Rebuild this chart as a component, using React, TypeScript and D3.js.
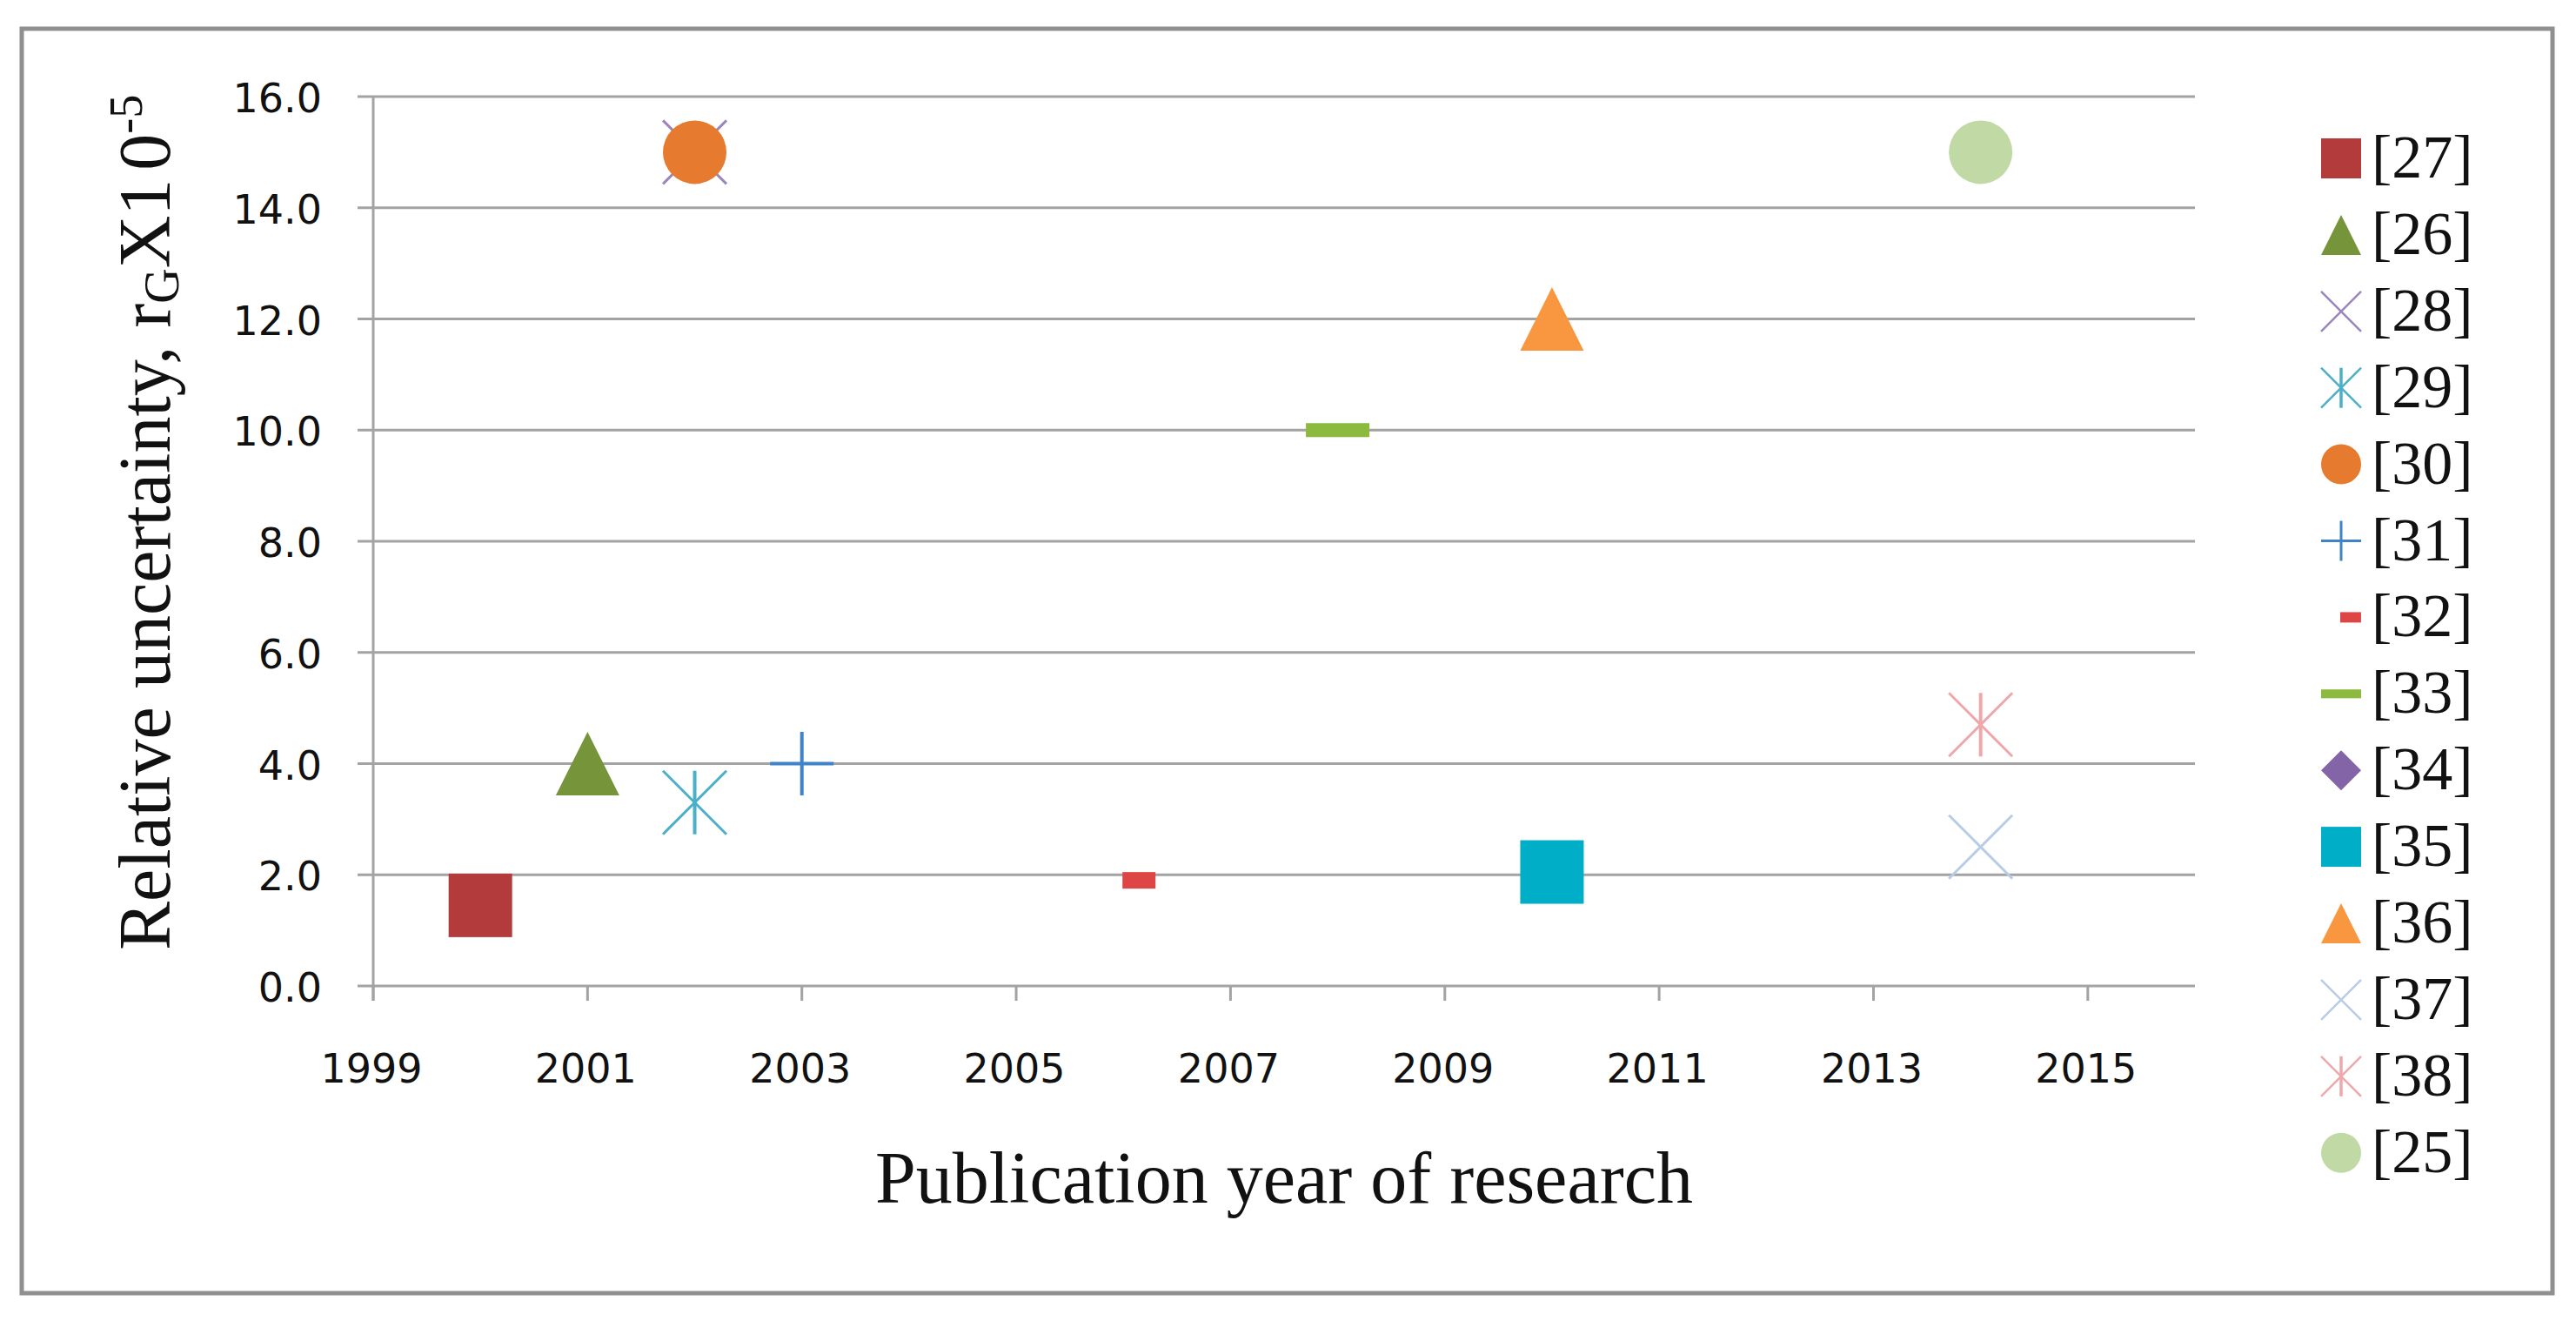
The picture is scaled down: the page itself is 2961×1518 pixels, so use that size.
import React from "react";
import * as d3 from "d3";

const refs = ["[27]", "[26]", "[28]", "[29]", "[30]", "[31]", "[32]", "[33]", "[34]", "[35]", "[36]", "[37]", "[38]", "[25]"];
const years: (number | null)[] = [2000, 2001, 2002, 2002, 2002, 2003, 2006, 2008, null, 2010, 2010, 2014, 2014, 2014];
const values: (number | null)[] = [1.45, 4.0, 15.0, 3.3, 15.0, 4.0, 1.9, 10.0, null, 2.05, 12.0, 2.5, 4.7, 15.0];
const markerTypes = ["square", "triangle", "x", "asterisk", "circle", "plus", "shortdash", "dash", "diamond", "square", "triangle", "x", "asterisk", "circle"];
const colors = ["#B43B3B", "#76953A", "#9A86BC", "#4BAFC8", "#E67A2E", "#4083C8", "#DE4646", "#8BBA3F", "#8364A6", "#00AEC8", "#F99640", "#B8CCE6", "#EEA8AA", "#C0D9A5"];
const xTicks = [1999, 2001, 2003, 2005, 2007, 2009, 2011, 2013, 2015];
const yTicks = [0, 2, 4, 6, 8, 10, 12, 14, 16];

const W = 2961;
const H = 1518;
const plot = { left: 429, right: 2523, top: 111, bottom: 1133 };

function Marker({ type, cx, cy, s, color }: { type: string; cx: number; cy: number; s: number; color: string }) {
  const h = s / 2;
  switch (type) {
    case "square":
      return <rect x={cx - h} y={cy - h} width={s} height={s} fill={color} />;
    case "triangle":
      return <path d={`M${cx},${cy - h}L${cx + h},${cy + h}L${cx - h},${cy + h}Z`} fill={color} />;
    case "diamond":
      return <path d={`M${cx},${cy - h}L${cx + h},${cy}L${cx},${cy + h}L${cx - h},${cy}Z`} fill={color} />;
    case "circle":
      return <ellipse cx={cx} cy={cy} rx={h} ry={h} fill={color} />;
    case "x":
      return (
        <g stroke={color} strokeWidth={s > 60 ? 3 : 2.5}>
          <line x1={cx - h} y1={cy - h} x2={cx + h} y2={cy + h} />
          <line x1={cx - h} y1={cy + h} x2={cx + h} y2={cy - h} />
        </g>
      );
    case "asterisk":
      return (
        <g stroke={color} strokeWidth={s > 60 ? 3 : 2.5}>
          <line x1={cx - h} y1={cy - h} x2={cx + h} y2={cy + h} />
          <line x1={cx - h} y1={cy + h} x2={cx + h} y2={cy - h} />
          <line x1={cx} y1={cy - h} x2={cx} y2={cy + h} strokeWidth={s > 60 ? 4 : 3.5} />
        </g>
      );
    case "plus":
      return (
        <g stroke={color} strokeWidth={s > 60 ? 4 : 3}>
          <line x1={cx - h} y1={cy} x2={cx + h} y2={cy} />
          <line x1={cx} y1={cy - h} x2={cx} y2={cy + h} />
        </g>
      );
    case "shortdash":
      return <rect x={cx - 1} y={cy - s * 0.13} width={s * 0.52} height={s * 0.26} fill={color} />;
    case "dash":
      return <rect x={cx - h} y={cy - s * 0.11} width={s} height={s * 0.22} fill={color} />;
    default:
      return null;
  }
}

export default function App() {
  const x = d3.scaleLinear().domain([1999, 2016]).range([plot.left, plot.right]);
  const y = d3.scaleLinear().domain([0, 16]).range([plot.bottom, plot.top]);
  const fmt = d3.format(".1f");
  const gridColor = "#A3A3A3";
  const tickFont = "'DejaVu Sans', Verdana, sans-serif";
  const serif = "'Liberation Serif', 'Times New Roman', serif";

  const legendX = 2691;
  const legendY0 = 182;
  const legendStep = 87.9;

  return (
    <svg width={W} height={H} style={{ position: "absolute", left: 0, top: 0, background: "#fff" }}>
      <rect x={0} y={0} width={W} height={H} fill="#fff" />
      <rect x={25} y={33} width={2909} height={1453} fill="#fff" stroke="#8F8F8F" strokeWidth={5} />

      {/* gridlines and y ticks */}
      {yTicks.map((t) => (
        <line key={"g" + t} x1={plot.left - 18} x2={plot.right} y1={y(t)} y2={y(t)} stroke={gridColor} strokeWidth={3} />
      ))}
      {/* y axis */}
      <line x1={plot.left} x2={plot.left} y1={plot.top} y2={plot.bottom + 17} stroke={gridColor} strokeWidth={3} />
      {/* x ticks */}
      {xTicks.map((t) => (
        <line key={"xt" + t} x1={x(t)} x2={x(t)} y1={plot.bottom} y2={plot.bottom + 17} stroke={gridColor} strokeWidth={3} />
      ))}

      {/* y tick labels */}
      {yTicks.map((t) => (
        <text key={"yl" + t} x={370} y={y(t) + 18} textAnchor="end" fontFamily={tickFont} fontSize={46} fill="#111">
          {fmt(t)}
        </text>
      ))}
      {/* x tick labels */}
      {xTicks.map((t) => (
        <text key={"xl" + t} x={x(t) - 2} y={1244} textAnchor="middle" fontFamily={tickFont} fontSize={46} fill="#111">
          {t}
        </text>
      ))}

      {/* markers */}
      {refs.map((r, i) => {
        const yr = years[i];
        const v = values[i];
        if (yr == null || v == null) return null;
        return <Marker key={"m" + r} type={markerTypes[i]} cx={x(yr)} cy={y(v)} s={73} color={colors[i]} />;
      })}

      {/* axis titles */}
      <text x={1476} y={1382} textAnchor="middle" fontFamily={serif} fontSize={84} fill="#111">
        Publication year of research
      </text>
      <text transform="translate(195,1092) rotate(-90)" textAnchor="start" fontFamily={serif} fontSize={84} fill="#111">
        Relative uncertainty, r
        <tspan fontSize={56} dy={10}>G</tspan>
        <tspan dy={-10}>X1</tspan>
        <tspan dx={10}>0</tspan>
        <tspan fontSize={54} dy={-32}>-5</tspan>
      </text>

      {/* legend */}
      {refs.map((r, i) => {
        const cy = legendY0 + i * legendStep;
        return (
          <g key={"lg" + r}>
            <Marker type={markerTypes[i]} cx={legendX} cy={cy} s={46} color={colors[i]} />
            <text x={2726} y={cy + 22} fontFamily={serif} fontSize={70} fill="#111">
              {r}
            </text>
          </g>
        );
      })}
    </svg>
  );
}
